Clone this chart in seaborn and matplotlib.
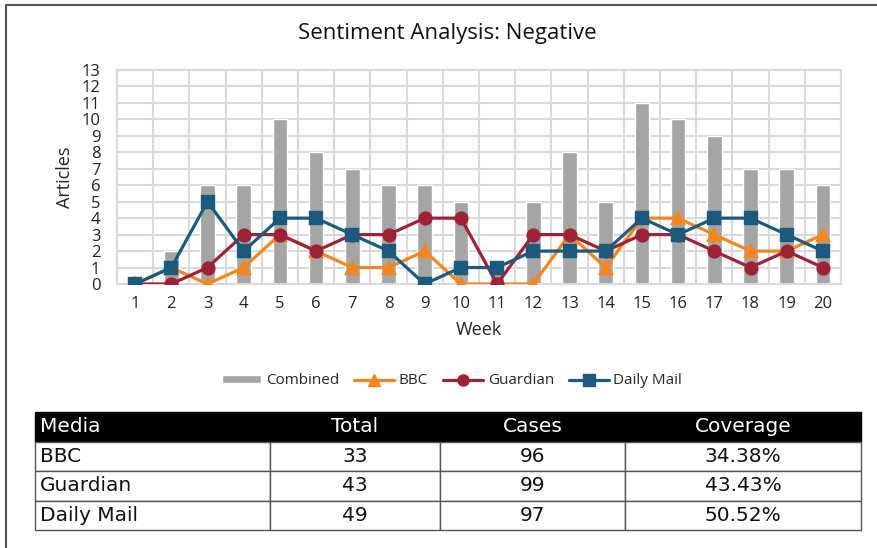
import numpy as np
import pandas as pd
import matplotlib
matplotlib.use("Agg")
import matplotlib.pyplot as plt
import seaborn as sns
from matplotlib.lines import Line2D
from matplotlib.patches import Patch

# weekly article counts
weeks = list(range(1, 21))
combined = [0, 2, 6, 6, 10, 8, 7, 6, 6, 5, 1, 5, 8, 5, 11, 10, 9, 7, 7, 6]
bbc = [0, 1, 0, 1, 3, 2, 1, 1, 2, 0, 0, 0, 3, 1, 4, 4, 3, 2, 2, 3]
guardian = [0, 0, 1, 3, 3, 2, 3, 3, 4, 4, 0, 3, 3, 2, 3, 3, 2, 1, 2, 1]
daily_mail = [0, 1, 5, 2, 4, 4, 3, 2, 0, 1, 1, 2, 2, 2, 4, 3, 4, 4, 3, 2]

# summary table
table_cols = ["Media", "Total", "Cases", "Coverage"]
media = ["BBC", "Guardian", "Daily Mail"]
totals = [33, 43, 49]
cases = [96, 99, 97]
coverage = ["34.38%", "43.43%", "50.52%"]

colors = {"Combined": "#A5A5A5", "BBC": "#F5861F",
          "Guardian": "#9E2236", "Daily Mail": "#1B5A7D"}
markers = {"BBC": "^", "Guardian": "o", "Daily Mail": "s"}

sns.set_theme(style="white")
plt.rcParams['font.family'] = ['Open Sans', 'DejaVu Sans']

W, H = 878, 548
fig = plt.figure(figsize=(W / 100, H / 100), dpi=100)


def box(l, t, r, b):
    return [l / W, 1 - b / H, (r - l) / W, (b - t) / H]


ax = fig.add_axes(box(117, 70, 841, 284))

df_bar = pd.DataFrame({"Week": weeks, "Articles": combined})
sns.barplot(data=df_bar, x="Week", y="Articles", color=colors["Combined"],
            width=0.4, saturation=1, ax=ax, zorder=2)

df_lines = pd.DataFrame({
    "Week": weeks * 3,
    "Articles": bbc + guardian + daily_mail,
    "Media": ["BBC"] * 20 + ["Guardian"] * 20 + ["Daily Mail"] * 20,
})
order = ["BBC", "Guardian", "Daily Mail"]
sns.pointplot(data=df_lines, x="Week", y="Articles", hue="Media",
              hue_order=order, palette=colors, markers=[markers[m] for m in order],
              linestyles="-", errorbar=None, dodge=False, ax=ax,
              markersize=8.5, linewidth=2.3, legend=False, zorder=3)

ax.set_xlim(-0.5, 19.5)
ax.set_ylim(0, 13)
ax.set_yticks(range(0, 14))
ax.set_xticks(np.arange(-0.5, 20, 1), minor=True)
ax.grid(False)
ax.grid(True, which="minor", axis="x", color="#D9D9D9", lw=1.5, zorder=0)
ax.grid(True, which="major", axis="y", color="#D9D9D9", lw=1.5, zorder=0)
ax.set_axisbelow(True)
for s in ax.spines.values():
    s.set_color("#D9D9D9")
    s.set_linewidth(1.5)
ax.tick_params(which="both", length=0)
ax.tick_params(axis="y", labelsize=12, pad=12, colors="#222222")
ax.tick_params(axis="x", labelsize=12, pad=9, colors="#222222")
ax.set_xlabel("Week", fontsize=13, labelpad=6, color="#222222")
ax.set_ylabel("Articles", fontsize=13, labelpad=5, color="#222222")

fig.text(447 / W, 1 - 33 / H, "Sentiment Analysis: Negative",
         ha="center", va="center", fontsize=16, color="#111111")

handles = [Patch(facecolor=colors["Combined"], label="Combined")]
for m in order:
    handles.append(Line2D([], [], color=colors[m], marker=markers[m], lw=2.3,
                          markersize=8, label=m))
fig.legend(handles=handles, loc="center", bbox_to_anchor=(452 / W, 1 - 381 / H),
           ncol=4, frameon=False, fontsize=11, handlelength=2.6,
           handleheight=0.5, columnspacing=1.0, handletextpad=0.3)

# table
tax = fig.add_axes(box(35, 412, 861, 530))
tax.axis("off")
cells = [[m, str(t), str(c), cv] for m, t, c, cv in zip(media, totals, cases, coverage)]
col_px = np.array([235, 170, 185, 236])
tbl = tax.table(cellText=cells, colLabels=table_cols, bbox=[0, 0, 1, 1],
                colWidths=list(col_px / col_px.sum()), cellLoc="center")
tbl.auto_set_font_size(False)
for (r, c), cell in tbl.get_celld().items():
    cell.set_edgecolor("#555555")
    cell.set_linewidth(1.0)
    txt = cell.get_text()
    txt.set_fontsize(14.5)
    txt.set_fontfamily("DejaVu Sans")
    if c == 0:
        txt.set_ha("left")
        cell.PAD = 0.02
    if r == 0:
        cell.set_facecolor("black")
        cell.set_edgecolor("black")
        txt.set_color("white")
    else:
        txt.set_color("#111111")

# outer frame lines
fig.add_artist(Line2D([6 / W, 6 / W], [0, 1 - 5 / H], color="#555555", lw=1.5))
fig.add_artist(Line2D([6 / W, 1], [1 - 5 / H, 1 - 5 / H], color="#555555", lw=1.5))

fig.savefig("out.png", dpi=100)
